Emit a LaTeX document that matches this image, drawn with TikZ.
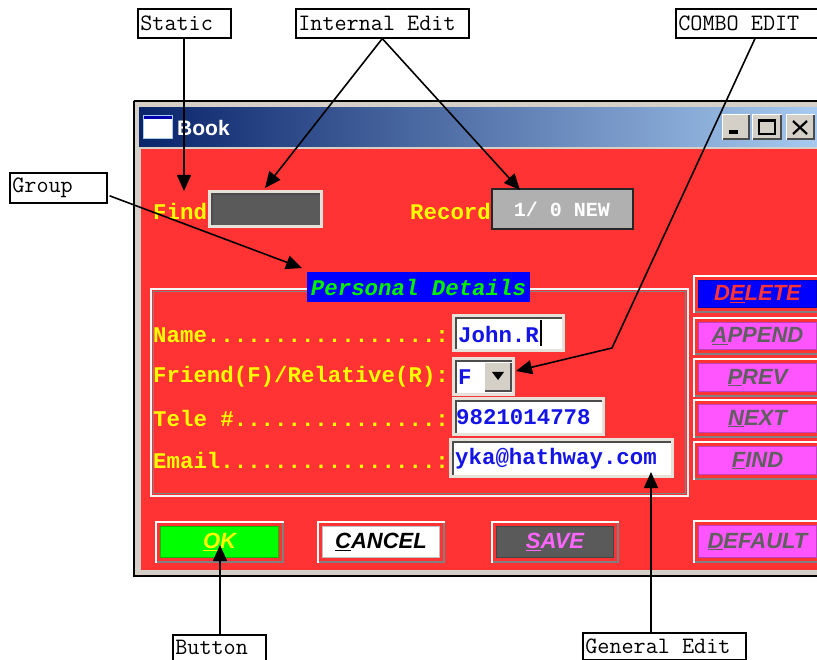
\documentclass[tikz,border=0pt]{standalone}
\usepackage{fontspec}
\setmainfont{Liberation Serif}
\newfontfamily\formfont{Liberation Mono}
\newfontfamily\guifont{Liberation Sans}
\usetikzlibrary{arrows.meta,calc}

\definecolor{winface}{HTML}{D4D0C8}
\definecolor{fieldedge}{HTML}{E6E2DA}
\definecolor{formred}{HTML}{FF3333}
\definecolor{titledark}{HTML}{0A246A}
\definecolor{titlelight}{HTML}{A6CAF0}
\definecolor{labelyellow}{HTML}{FFFF00}
\definecolor{fieldblue}{HTML}{1414E6}
\definecolor{btnpink}{HTML}{FF55FF}
\definecolor{btntext}{HTML}{5F5F5F}
\definecolor{darkfield}{HTML}{5A5A5A}
\definecolor{shadowgray}{HTML}{808080}
\definecolor{recordgray}{HTML}{B0B0B0}
\definecolor{groupgreen}{HTML}{00F000}
\definecolor{savepink}{HTML}{FF66FF}

% raised push button: name, x1, y1, x2, y2, face colour, text colour, label
\newcommand\raisedbtn[8]{%
  \fill[white] (#2,#3) rectangle (#4,#5);
  \fill[shadowgray] (#2+2,#3+2) rectangle (#4,#5);
  \fill[formred] (#2+2,#3+2) rectangle (#4-2,#5-2);
  \fill[#6!75!black] (#2+5,#3+5) rectangle (#4-5,#5-5);
  \node[btnface, fill=#6, text=#7, minimum width={#4-#2-12}, minimum height={#5-#3-12}]
    (#1) at ({(#2+#4)/2},{(#3+#5)/2}) {#8};}

% sunken edit field: x1, y1, x2, y2, face colour
\newcommand\sunkenfield[5]{%
  \fill[fieldedge] (#1,#2) rectangle (#3,#4);
  \fill[black!70] (#1+3,#2+3) rectangle (#3-3,#4-3);
  \fill[#5] (#1+5,#2+5) rectangle (#3-3,#4-3);}

% caption button of the title bar: x1, y1, x2, y2
\newcommand\capbtn[4]{%
  \fill[white] (#1,#2) rectangle (#3,#4);
  \fill[black!70] (#1+1,#2+1) rectangle (#3,#4);
  \fill[winface] (#1+1,#2+1) rectangle (#3-2,#4-2);}

\tikzset{
  callout/.style={draw=black, line width=1.6pt, fill=white, anchor=north west,
    inner xsep=2.5pt, inner ysep=0pt, minimum height=29pt, align=flush left,
    font=\ttfamily\fontsize{23.5}{25}\selectfont},
  pointer/.style={draw=black, line width=1.6pt, -{Triangle[length=16pt,width=14pt]}},
  formlabel/.style={anchor=west, inner sep=0pt, text=labelyellow,
    font=\formfont\bfseries\fontsize{22.4}{24}\selectfont},
  fieldtext/.style={anchor=west, inner sep=0pt, text=fieldblue,
    font=\formfont\bfseries\fontsize{22.4}{24}\selectfont},
  btnface/.style={inner sep=0pt, font=\guifont\bfseries\itshape\fontsize{22}{24}\selectfont},
}

\begin{document}
\begin{tikzpicture}[x=1pt,y=-1pt]
\clip (0,0) rectangle (817,660);
\fill[white] (0,0) rectangle (817,660);

% ---- window frame and title bar ----
\fill[winface] (133,100) rectangle (830,576);
\draw[black, line width=2pt] (134,101) -- (830,101);
\draw[black, line width=2pt] (134,101) -- (134,576) -- (830,576);
\shade[left color=titledark, right color=titlelight] (139,108) rectangle (817,147);
\fill[formred] (141,149) rectangle (830,570);

% window icon and caption
\fill[white] (143,115) rectangle (172,138);
\fill[blue!70!black] (143,115) rectangle (172,119);
\draw[titlelight, line width=0.8pt] (143,115) rectangle (172,138);
\node[anchor=west, inner sep=0pt, text=white, font=\guifont\bfseries\fontsize{21}{23}\selectfont]
  (caption) at (177,128) {Book};

% minimize / maximize / close
\capbtn{722}{114}{750}{140}
\capbtn{752}{114}{782}{140}
\capbtn{786}{114}{815}{140}
\fill[black] (729,130) rectangle (738,134);
\draw[black, line width=1.5pt] (759,120) rectangle (775,134);
\fill[black] (759,119) rectangle (775,122);
\draw[black, line width=2.2pt] (793,121) -- (807,134) (807,121) -- (793,134);

% ---- Find / Record row ----
\node[formlabel] (findlbl) at (153,211) {Find};
\sunkenfield{208}{190}{323}{228}{darkfield}
\node[formlabel] (recordlbl) at (410,211) {Record};
\node[draw=black!85, line width=2pt, fill=recordgray, text=white, inner sep=0pt,
  minimum width=141pt, minimum height=40pt,
  font=\formfont\bfseries\fontsize{20}{22}\selectfont] (record) at (562,209.5) {1/ 0 NEW};

% ---- group box ----
\draw[white!92!gray, line width=2pt] (151,289) rectangle (688,496);
\draw[shadowgray, line width=0.8pt] (153.5,291.5) rectangle (685.5,493.5);
\node[fill=blue, text=groupgreen, inner sep=0pt, minimum width=223pt, minimum height=30pt,
  font=\formfont\bfseries\itshape\fontsize{22.4}{24}\selectfont] (grouplbl) at (418.5,287) {Personal Details};

% ---- fields ----
\node[formlabel] (namelbl) at (153,335) {Name.................:};
\sunkenfield{452}{314}{565}{352}{white}
\node[fieldtext] (nametxt) at (458,334) {John.R};
\draw[black, line width=1.2pt] (541,320) -- (541,346);

\node[formlabel] (rellbl) at (153,377) {Friend(F)/Relative(R):};
\sunkenfield{452}{357}{515}{396}{white}
\node[fieldtext] (reltxt) at (458,377) {F};
\fill[white] (484,362) rectangle (512,392);
\fill[black!70] (485,363) rectangle (512,392);
\fill[winface] (485,363) rectangle (510,390);
\fill[black] (492,372) -- (504,372) -- (498,380) -- cycle;

\node[formlabel] (telelbl) at (153,418) {Tele \#...............:};
\sunkenfield{452}{397}{605}{436}{white}
\node[fieldtext] (teletxt) at (456,417) {9821014778};

\node[formlabel] (maillbl) at (153,460) {Email................:};
\sunkenfield{449}{438}{674}{478}{white}
\node[fieldtext] (mailtxt) at (455,459) {yka@hathway.com};

% ---- push buttons ----
\raisedbtn{delete}{693}{275}{822}{313}{blue}{formred}{D\underline{E}LETE}
\raisedbtn{append}{693}{317}{822}{355}{btnpink}{btntext}{\underline{A}PPEND}
\raisedbtn{prev}{693}{358}{822}{397}{btnpink}{btntext}{\underline{P}REV}
\raisedbtn{next}{693}{399}{822}{438}{btnpink}{btntext}{\underline{N}EXT}
\raisedbtn{find}{693}{441}{822}{480}{btnpink}{btntext}{\underline{F}IND}
\raisedbtn{default}{693}{520}{822}{563}{btnpink}{btntext}{\underline{D}EFAULT}
\raisedbtn{ok}{155}{521}{284}{563}{green}{labelyellow}{\underline{O}K}
\raisedbtn{cancel}{317}{521}{445}{563}{white}{black}{\underline{C}ANCEL}
\raisedbtn{save}{491}{521}{619}{563}{darkfield}{savepink}{\underline{S}AVE}

% ---- callouts ----
\node[callout, text width=88pt] (static) at (137,8) {Static};
\node[callout, text width=168pt] (internal) at (295,8) {Internal Edit};
\node[callout, text width=150pt] (combo) at (675,8) {COMBO EDIT};
\node[callout, text width=92pt, minimum height=30pt] (group) at (9,172) {Group};
\node[callout, text width=88pt, minimum height=26pt] (button) at (172,634) {Button};
\node[callout, text width=158pt, minimum height=27pt] (general) at (582,632) {General Edit};

\coordinate (tipStatic) at (184,191);
\coordinate (tipFind) at (265,188);
\coordinate (tipRecord) at (520,190);
\coordinate (bendCombo) at (612,348);
\coordinate (tipCombo) at (516,371);
\coordinate (tipGroup) at (302,268);
\coordinate (tipOK) at (220,545);
\coordinate (tipMail) at (651,472);

\draw[pointer] (static.south -| tipStatic) -- (tipStatic);
\draw[pointer] (internal.south) -- (tipFind);
\draw[pointer] (internal.south) -- (tipRecord);
\draw[pointer] ($(combo.south west)+(80,0)$) -- (bendCombo) -- (tipCombo);
\draw[pointer] ($(group.east)+(2,8)$) -- (tipGroup);
\draw[pointer] (button.north -| tipOK) -- (tipOK);
\draw[pointer] (general.north -| tipMail) -- (tipMail);
\end{tikzpicture}
\end{document}
